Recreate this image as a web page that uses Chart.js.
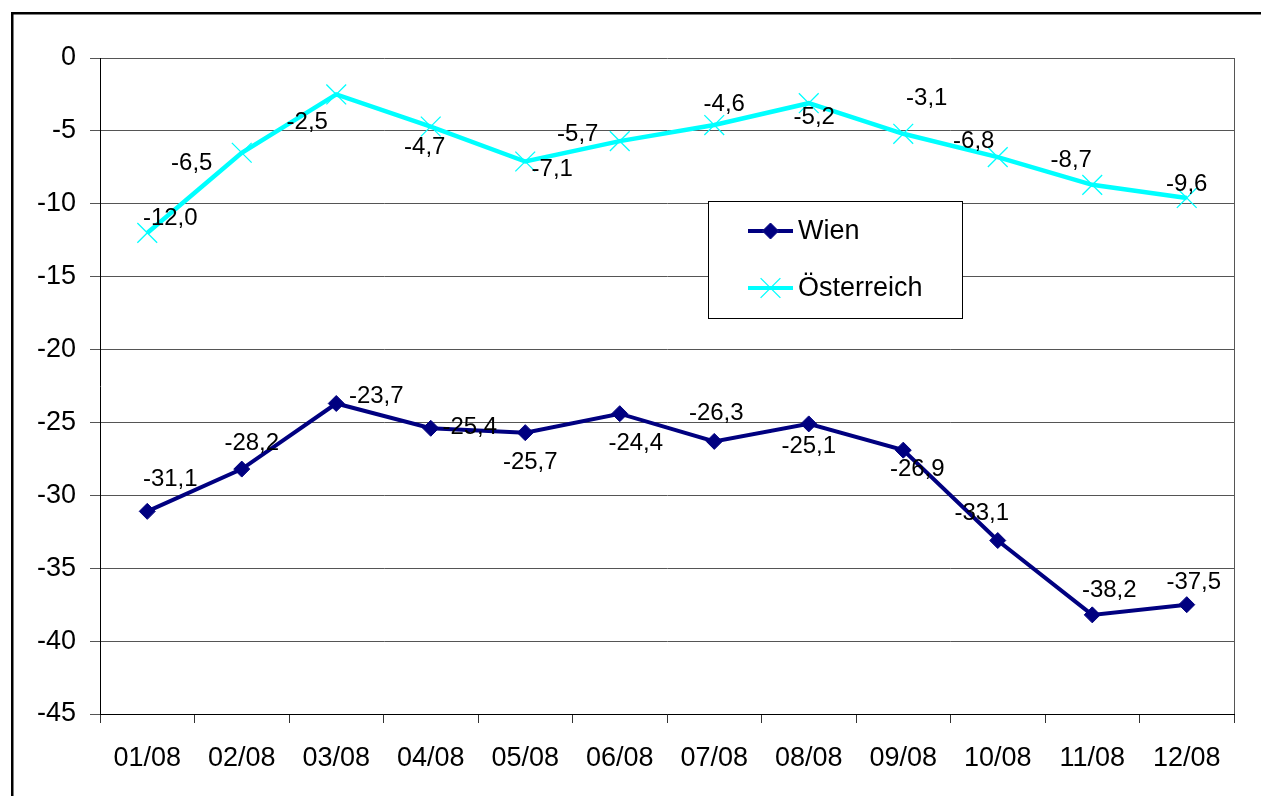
<!DOCTYPE html>
<html>
<head>
<meta charset="utf-8">
<script src="https://cdn.jsdelivr.net/npm/chart.js@4/dist/chart.umd.min.js"></script>
<style>
  body { margin: 0; background: #fff; }
  #chart { display: block; }
</style>
</head>
<body>
<canvas id="chart" width="1261" height="796"></canvas>
<script>
const months = ["01/08", "02/08", "03/08", "04/08", "05/08", "06/08", "07/08", "08/08", "09/08", "10/08", "11/08", "12/08"];
const wien = [-31.1, -28.2, -23.7, -25.4, -25.7, -24.4, -26.3, -25.1, -26.9, -33.1, -38.2, -37.5];
const oesterreich = [-12.0, -6.5, -2.5, -4.7, -7.1, -5.7, -4.6, -3.1, -5.2, -6.8, -8.7, -9.6];

const FONT = '"Liberation Sans", Arial, sans-serif';

// where each value label sits relative to its point (like the hand-placed excel labels)
const labelShift = [
  [[23, -33], [10, -27], [40, -8], [39, -2], [5, 29], [16, 29], [2, -29], [0, 21], [14, 18], [-16, -28], [17, -25], [7, -23]],
  [[23, -16], [-50, 10], [-29, 27], [-6, 20], [27, 7], [-42, -8], [10, -22], [118, -6], [-89, -17], [-24, -17], [-21, -25], [0, -15]]
];

const valueLabels = {
  id: "valueLabels",
  afterDatasetsDraw(chart) {
    const ctx = chart.ctx;
    ctx.save();
    ctx.font = "24px " + FONT;
    ctx.fillStyle = "#000";
    ctx.textAlign = "center";
    ctx.textBaseline = "middle";
    chart.data.datasets.forEach(function (ds, i) {
      const meta = chart.getDatasetMeta(i);
      meta.data.forEach(function (pt, j) {
        const txt = ds.data[j].toFixed(1).replace(".", ",");
        const s = labelShift[i][j];
        ctx.fillText(txt, pt.x + s[0], pt.y + s[1] + 1);
      });
    });
    ctx.restore();
  }
};

const frameAndLegend = {
  id: "frameAndLegend",
  afterDraw(chart) {
    const ctx = chart.ctx;
    const area = chart.chartArea;
    ctx.save();

    // right border of plot area
    ctx.strokeStyle = "#555";
    ctx.lineWidth = 1;
    ctx.beginPath();
    ctx.moveTo(Math.round(area.right) + 0.5, area.top);
    ctx.lineTo(Math.round(area.right) + 0.5, area.bottom);
    ctx.stroke();

    // outer frame (cut off at right and bottom)
    ctx.fillStyle = "#000";
    ctx.fillRect(11, 12, 2.5, 796);
    ctx.fillRect(11, 12, 1261, 2.5);

    // legend box
    const bx = 708.5, by = 201.5, bw = 254, bh = 117;
    ctx.fillStyle = "#fff";
    ctx.fillRect(bx, by, bw, bh);
    ctx.strokeStyle = "#000";
    ctx.strokeRect(bx, by, bw, bh);

    const rows = [231, 288];
    chart.data.datasets.forEach(function (ds, i) {
      const y = rows[i];
      ctx.strokeStyle = ds.borderColor;
      ctx.lineWidth = 4;
      ctx.beginPath();
      ctx.moveTo(748, y);
      ctx.lineTo(793, y);
      ctx.stroke();
      ctx.lineWidth = ds.pointBorderWidth;
      Chart.helpers.drawPoint(ctx, {
        pointStyle: ds.pointStyle,
        radius: ds.pointRadius,
        borderWidth: ds.pointBorderWidth
      }, 770.5, y);
      if (ds.pointStyle === "rectRot") {
        ctx.fillStyle = ds.pointBackgroundColor;
        ctx.fill();
      }
      ctx.fillStyle = "#000";
      ctx.font = "27px " + FONT;
      ctx.textAlign = "left";
      ctx.textBaseline = "middle";
      ctx.fillText(ds.label, 798, y + 1);
    });
    ctx.restore();
  }
};

new Chart(document.getElementById("chart"), {
  type: "line",
  data: {
    labels: months,
    datasets: [
      {
        label: "Wien",
        data: wien,
        borderColor: "#000080",
        backgroundColor: "#000080",
        borderWidth: 4,
        tension: 0,
        pointStyle: "rectRot",
        pointRadius: 8,
        pointBorderWidth: 1,
        pointBackgroundColor: "#000080",
        pointBorderColor: "#000080"
      },
      {
        label: "Österreich",
        data: oesterreich,
        borderColor: "#00FFFF",
        backgroundColor: "#00FFFF",
        borderWidth: 4.5,
        tension: 0,
        pointStyle: "crossRot",
        pointRadius: 14,
        pointBorderWidth: 1.3,
        pointBackgroundColor: "#00FFFF",
        pointBorderColor: "#00FFFF"
      }
    ]
  },
  options: {
    responsive: false,
    animation: false,
    devicePixelRatio: 1,
    layout: {
      padding: { top: 58, right: 27, bottom: 0, left: 0 }
    },
    plugins: {
      legend: { display: false },
      tooltip: { enabled: false }
    },
    scales: {
      x: {
        offset: true,
        afterFit: function (scale) { scale.height = 82; },
        grid: {
          offset: true,
          drawOnChartArea: false,
          tickLength: 9,
          color: "#333"
        },
        border: { color: "#000", width: 1 },
        ticks: {
          color: "#000",
          padding: 19,
          maxRotation: 0,
          font: { family: FONT, size: 27 }
        }
      },
      y: {
        min: -45,
        max: 0,
        afterFit: function (scale) { scale.width = 100; },
        grid: {
          color: "#555",
          tickLength: 10
        },
        border: { color: "#000", width: 1 },
        ticks: {
          stepSize: 5,
          color: "#000",
          padding: 14,
          font: { family: FONT, size: 27 }
        }
      }
    }
  },
  plugins: [valueLabels, frameAndLegend]
});
</script>
</body>
</html>
